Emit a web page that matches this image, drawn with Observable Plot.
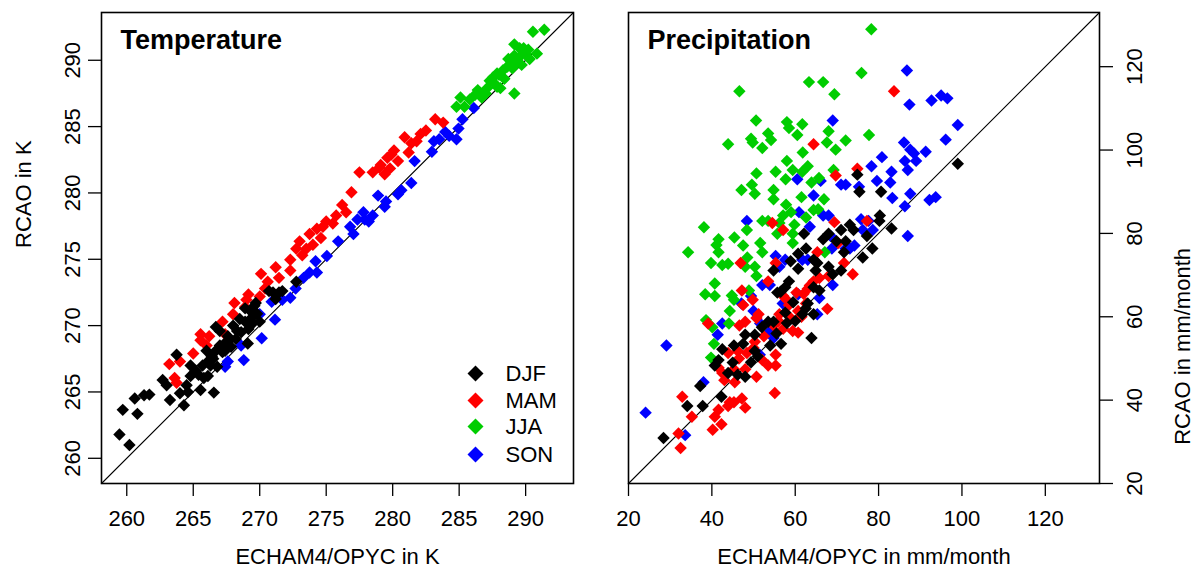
<!DOCTYPE html>
<html><head><meta charset="utf-8">
<script src="https://cdn.jsdelivr.net/npm/d3@7"></script>
<script src="https://cdn.jsdelivr.net/npm/@observablehq/plot@0.6"></script>
<style>
html,body{margin:0;padding:0;background:#fff;}
#chart{display:flex;width:1195px;height:573px;overflow:hidden;}
</style></head><body><div id="chart"></div>
<script>
// ---------- data ----------
const seasons = ["DJF", "MAM", "JJA", "SON"];
const seasonColors = ["#000000", "#FF0000", "#00CD00", "#0000FF"];
const drawOrder = ["SON", "JJA", "MAM", "DJF"];

const tempTicks = [260, 265, 270, 275, 280, 285, 290];
const precipTicks = [20, 40, 60, 80, 100, 120];
const tempDomain = [258.1, 293.6];
const precipDomain = [20, 133];

// Temperature (K): [ECHAM4/OPYC, RCAO]
const tempDJF = [[259.45,261.8],[260.2,261.0],[259.7,263.65],[260.8,263.35],[260.6,264.5],[261.3,264.75],[261.7,264.8],[262.7,265.9],[263.0,265.5],[263.25,264.4],[263.75,267.8],[264.0,264.9],[264.3,264.0],[264.5,265.5],[264.8,266.2],[264.8,267.0],[265.55,265.15],[266.55,264.95],[265.8,266.05],[265.7,267.0],[266.1,267.3],[266.4,267.7],[266.0,268.1],[266.8,266.9],[266.7,268.1],[267.0,268.5],[267.4,268.1],[267.3,268.6],[266.7,269.9],[267.0,269.6],[267.7,268.9],[267.85,268.4],[268.3,269.6],[268.6,269.5],[268.0,270.0],[268.9,270.3],[269.15,269.75],[269.4,270.6],[269.1,268.65],[268.9,271.3],[269.3,271.1],[269.6,271.5],[269.7,271.7],[270.0,270.3],[270.7,272.6],[271.0,272.5],[271.45,272.5],[271.7,272.6],[272.75,273.3],[271.2,272.0],[266.1,266.2],[265.4,266.3],[266.3,267.0],[267.6,269.2],[268.5,270.5],[269.8,270.9],[264.6,265.0],[265.2,266.6],[267.2,268.0],[268.2,269.0],[266.5,267.5],[269.5,270.2]];
const tempMAM = [[263.2,267.1],[264.0,267.3],[263.6,266.05],[263.75,265.7],[265.0,267.9],[265.55,268.9],[265.55,269.35],[266.2,269.2],[267.2,270.3],[267.4,269.35],[268.0,270.85],[268.1,271.7],[268.9,271.4],[269.15,272.35],[269.0,271.95],[270.0,272.2],[270.1,273.9],[270.6,273.3],[271.2,274.4],[271.45,273.6],[272.3,274.97],[272.75,275.8],[273.0,276.35],[273.5,275.8],[273.75,276.9],[274.0,276.1],[274.3,277.3],[274.75,277.45],[275.0,277.85],[274.6,276.6],[275.75,278.3],[276.2,279.1],[276.5,278.55],[276.9,280.05],[277.5,281.55],[278.5,281.55],[279.1,282.1],[279.4,281.4],[279.6,282.65],[280.1,283.2],[280.4,282.4],[280.9,284.2],[281.4,283.75],[281.8,283.9],[282.1,284.45],[282.5,284.7],[283.2,285.55],[283.8,285.3],[281.2,283.05],[279.8,281.85],[275.5,277.7],[272.3,274.15],[279.0,281.9],[279.9,282.9],[273.2,275.3],[270.4,272.8],[266.0,268.5]];
const tempJJA = [[284.8,286.5],[285.1,287.2],[285.4,286.5],[285.8,287.05],[286.4,287.75],[286.7,287.2],[287.1,287.9],[287.3,288.45],[287.55,288.7],[287.85,288.0],[287.85,289.0],[288.3,289.25],[288.4,288.6],[288.7,290.1],[289.15,290.35],[289.0,289.4],[289.3,289.8],[289.15,291.2],[289.55,290.9],[289.7,289.65],[290.0,290.5],[290.3,290.1],[290.55,292.15],[291.4,292.3],[289.15,287.5],[290.85,290.5],[289.85,290.9],[288.1,287.9],[287.0,287.5],[288.9,289.9],[289.5,290.2],[288.0,288.9],[286.2,287.4],[288.6,289.5],[287.6,288.3],[290.2,290.8]];
const tempSON = [[267.4,266.9],[267.6,267.3],[268.8,267.4],[268.6,268.5],[270.15,269.05],[270.0,270.85],[271.15,270.45],[270.9,271.8],[271.7,271.95],[272.3,272.1],[272.7,272.8],[273.3,273.6],[273.75,274.0],[274.3,274.0],[274.2,274.85],[275.05,275.25],[275.9,276.35],[277.05,276.9],[276.8,277.45],[277.35,278.0],[277.8,278.55],[278.2,277.85],[278.5,278.3],[278.9,279.8],[279.4,278.95],[280.4,279.9],[280.65,280.2],[281.4,280.75],[281.65,282.4],[282.95,283.1],[283.1,283.9],[283.95,284.6],[284.8,284.05],[284.95,284.85],[285.25,285.55],[286.1,286.4],[284.25,284.3],[283.5,284.05],[277.9,278.0],[279.5,279.35]];

// Precipitation (mm/month): [ECHAM4/OPYC, RCAO]
const precipDJF = [[99.0,96.7],[74.9,94.1],[75.4,90.0],[80.6,90.0],[80.3,84.3],[83.1,81.2],[80.2,83.0],[77.2,79.4],[78.5,76.4],[76.2,74.2],[73.1,82.1],[74.0,80.8],[71.0,80.8],[68.0,79.9],[66.7,78.6],[69.9,78.1],[72.1,78.1],[62.1,79.9],[62.6,76.4],[64.4,73.7],[64.9,71.1],[71.7,75.5],[71.0,71.1],[69.0,70.2],[60.7,71.5],[58.9,73.3],[54.8,71.1],[57.6,67.1],[58.5,68.5],[55.7,65.8],[64.4,67.1],[65.8,66.3],[63.0,63.2],[64.4,60.6],[61.7,60.6],[57.6,61.0],[63.9,54.9],[53.5,58.8],[54.8,58.8],[56.6,53.5],[54.0,53.1],[50.3,55.7],[48.0,55.7],[47.5,53.5],[45.3,53.1],[42.5,52.2],[40.7,48.3],[41.6,49.6],[43.9,46.5],[46.2,46.1],[49.4,49.1],[50.3,51.8],[48.0,45.6],[37.2,43.4],[42.3,40.8],[34.1,38.6],[37.8,38.6],[28.4,30.9],[60.7,75.1],[68.0,72.0],[65.3,72.9],[52.0,57.5],[55.5,56.0],[58.0,58.5],[60.0,59.0],[62.5,62.0],[59.5,63.5],[56.5,66.0],[51.0,50.5],[45.0,49.0]];
const precipMAM = [[83.7,114.1],[64.4,101.4],[69.7,93.9],[74.9,95.5],[77.2,83.0],[69.4,82.7],[70.3,77.7],[73.8,70.2],[54.5,82.5],[57.1,80.8],[46.9,72.9],[55.3,72.9],[65.3,75.5],[64.4,68.5],[65.8,69.3],[53.5,68.5],[60.3,65.8],[63.0,66.7],[68.0,69.8],[67.7,61.9],[57.1,65.0],[47.2,66.3],[47.5,62.8],[49.8,64.1],[58.5,62.8],[60.7,61.4],[62.6,63.2],[56.2,60.6],[58.9,59.7],[48.0,58.8],[50.7,59.7],[52.5,55.3],[54.8,57.9],[57.1,57.1],[59.4,56.6],[60.7,56.2],[39.1,58.4],[41.6,47.8],[43.9,51.3],[46.2,51.8],[48.4,51.3],[50.3,54.0],[45.3,47.4],[42.5,46.5],[43.0,44.8],[45.5,44.3],[48.0,47.4],[50.7,45.6],[53.5,48.3],[55.3,48.3],[52.1,49.6],[55.3,50.9],[55.1,41.7],[41.6,37.7],[43.9,38.6],[45.3,39.5],[47.2,40.4],[48.0,38.2],[44.3,39.5],[40.7,36.0],[40.2,32.9],[42.3,34.2],[32.9,40.8],[35.2,36.0],[32.0,32.0],[32.5,28.5],[46.6,57.9],[51.2,60.6],[71.7,72.9],[56.0,59.0],[58.0,64.0],[61.5,60.0],[62.0,65.5],[63.5,67.5],[50.0,52.5],[46.5,50.0]];
const precipJJA = [[78.25,129.0],[75.9,118.5],[46.6,114.1],[63.3,116.3],[66.7,116.3],[69.4,113.4],[43.9,101.4],[49.4,102.7],[50.6,107.1],[49.8,101.8],[52.1,100.5],[53.5,104.0],[54.2,102.4],[58.0,106.7],[58.5,105.3],[61.7,106.2],[60.5,103.6],[61.8,99.4],[67.6,101.8],[68.0,104.5],[72.1,102.3],[69.7,100.1],[77.7,103.6],[47.1,90.4],[50.7,94.4],[49.6,91.7],[50.3,89.5],[55.3,94.8],[54.8,90.4],[54.8,88.2],[58.0,97.4],[57.7,93.0],[59.4,95.2],[61.7,94.8],[63.0,96.1],[63.9,92.2],[65.7,93.3],[69.2,95.2],[66.9,88.2],[65.5,85.8],[61.5,88.7],[57.8,86.9],[59.0,85.1],[57.1,84.3],[52.1,83.0],[53.5,83.0],[38.1,81.5],[34.3,75.5],[41.1,77.2],[41.6,78.6],[45.4,79.0],[48.4,80.8],[47.5,77.1],[51.6,77.7],[52.1,75.5],[48.5,74.2],[39.8,72.9],[41.6,75.5],[42.5,72.4],[43.9,72.7],[40.7,68.0],[38.4,65.4],[40.7,65.0],[44.8,65.1],[45.3,64.1],[44.3,61.4],[44.1,58.4],[38.6,59.2],[40.1,57.5],[40.5,53.5],[39.8,50.2],[48.0,72.0],[50.3,72.0],[50.7,69.8],[55.7,79.9],[56.2,82.5],[59.8,82.1],[59.4,77.7],[62.6,83.8],[64.4,85.6],[67.1,75.5],[59.4,79.9],[48.9,66.3]];
const precipSON = [[86.8,119.1],[87.4,110.9],[92.7,111.9],[95.0,113.1],[96.5,112.4],[99.0,106.0],[96.1,102.5],[91.3,99.6],[86.1,101.8],[87.6,100.1],[88.5,99.2],[89.0,97.4],[86.3,97.4],[87.0,95.2],[83.1,94.8],[80.8,98.3],[78.3,96.1],[79.6,92.6],[82.8,92.2],[83.3,88.5],[87.6,89.5],[92.2,88.0],[93.7,88.7],[86.3,86.5],[87.0,79.4],[69.0,107.1],[66.1,92.6],[71.0,91.7],[72.1,91.7],[60.5,93.0],[64.4,89.1],[48.4,83.0],[60.9,85.1],[63.5,81.6],[66.7,84.3],[68.0,84.3],[75.8,83.4],[78.6,80.8],[75.3,91.2],[76.2,80.8],[68.5,79.4],[72.1,76.4],[68.8,76.4],[55.3,74.6],[57.6,73.7],[61.7,73.7],[56.2,72.0],[63.0,73.7],[73.1,76.4],[52.1,67.6],[53.9,67.6],[60.7,65.4],[57.0,63.2],[49.4,65.0],[47.1,63.2],[50.0,61.4],[65.8,64.5],[69.0,67.6],[65.3,60.6],[51.6,58.4],[54.0,56.6],[54.8,54.9],[42.5,58.4],[41.4,55.7],[51.5,50.9],[29.1,53.1],[38.0,44.3],[24.1,37.0],[33.6,31.6],[74.2,77.1],[77.6,83.0]];

// ---------- build ----------
const FONT = "'Liberation Sans', Arial, Helvetica, sans-serif";
const colorOf = Object.fromEntries(seasons.map((s, i) => [s, seasonColors[i]]));

function table(bySeason) {
  const out = [];
  for (const s of drawOrder) for (const [x, y] of bySeason[s]) out.push({season: s, x, y});
  return out;
}

function panel({data, domain, ticks, title, xLabel, yLabel, side, width, marginLeft, marginRight, legend}) {
  const diag = domain.map(v => ({v}));
  const marks = [
    Plot.line(diag, {x: "v", y: "v", stroke: "black", strokeWidth: 1.1}),
    Plot.dot(data, {x: "x", y: "y", symbol: "diamond2", r: 5.6, fill: d => colorOf[d.season], stroke: "none"}),
    Plot.frame({stroke: "black", strokeWidth: 1.6}),
    Plot.axisX({ticks, tickSize: 13, tickPadding: 14, fontSize: 22, strokeWidth: 1.3, label: null, tickFormat: d => String(d)}),
    side === "left"
      ? Plot.axisY({anchor: "left", ticks, tickSize: 13, tickPadding: 9, tickRotate: -90, fontSize: 22, strokeWidth: 1.3, label: null, tickFormat: d => String(d)})
      : Plot.axisY({anchor: "right", ticks, tickSize: 13, tickPadding: 14, tickRotate: -90, lineAnchor: "top", fontSize: 22, strokeWidth: 1.3, label: null, tickFormat: d => String(d)}),
    Plot.text([title], {frameAnchor: "top-left", dx: 19, dy: 17.5, textAnchor: "start", lineAnchor: "top", fontSize: 27, fontWeight: "bold", fill: "black"}),
    Plot.text([xLabel], {frameAnchor: "bottom", dy: 80, lineAnchor: "bottom", fontSize: 22, fill: "black"}),
    side === "left"
      ? Plot.text([yLabel], {frameAnchor: "left", dx: -78, rotate: -90, fontSize: 22, fill: "black"})
      : Plot.text([yLabel], {frameAnchor: "right", dx: 83, rotate: -90, fontSize: 22, fill: "black"})
  ];
  if (legend) {
    const rowDy = [-110, -83, -57, -29];
    seasons.forEach((s, i) => {
      marks.push(Plot.dot([s], {frameAnchor: "bottom-right", dx: -98, dy: rowDy[i], symbol: "diamond2", r: 7.2, fill: seasonColors[i], stroke: "none"}));
      marks.push(Plot.text([s], {frameAnchor: "bottom-right", dx: -68, dy: rowDy[i], textAnchor: "start", lineAnchor: "middle", fontSize: 22, fill: "black"}));
    });
  }
  return Plot.plot({
    width, height: 573,
    marginLeft, marginRight, marginTop: 12, marginBottom: 90,
    x: {domain}, y: {domain},
    style: {fontFamily: FONT, fontSize: "22px", background: "white", color: "black", overflow: "visible"},
    marks
  });
}

const chart = document.getElementById("chart");
chart.append(panel({
  data: table({DJF: tempDJF, MAM: tempMAM, JJA: tempJJA, SON: tempSON}),
  domain: tempDomain, ticks: tempTicks, title: "Temperature",
  xLabel: "ECHAM4/OPYC in K", yLabel: "RCAO in K", side: "left",
  width: 597, marginLeft: 101, marginRight: 24, legend: true
}));
chart.append(panel({
  data: table({DJF: precipDJF, MAM: precipMAM, JJA: precipJJA, SON: precipSON}),
  domain: precipDomain, ticks: precipTicks, title: "Precipitation",
  xLabel: "ECHAM4/OPYC in mm/month", yLabel: "RCAO in mm/month", side: "right",
  width: 598, marginLeft: 31, marginRight: 96, legend: false
}));
</script></body></html>
